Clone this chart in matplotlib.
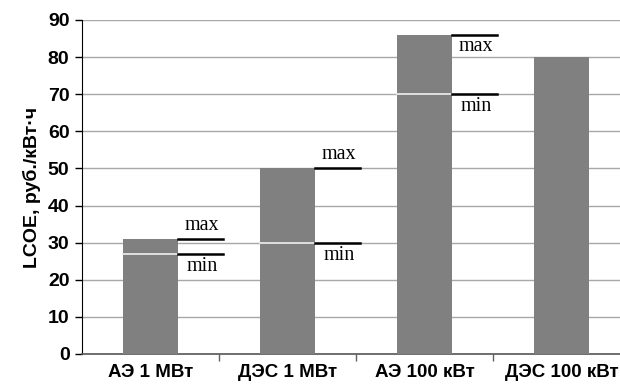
import numpy as np
import matplotlib
matplotlib.use("Agg")
import matplotlib.pyplot as plt

# ---- data ----
categories = ['АЭ 1 МВт', 'ДЭС 1 МВт', 'АЭ 100 кВт', 'ДЭС 100 кВт']
lcoe_max = [31, 50, 86, 80]
lcoe_min = [27, 30, 70, np.nan]
yticks = np.arange(0, 100, 10)

bar_col = '#808080'

fig = plt.figure(figsize=(6.2, 3.88), dpi=100)
ax = fig.add_axes([82/620, 34/388, 548/620, 334/388])

x = np.arange(len(categories))
ax.bar(x, lcoe_max, width=0.4, color=bar_col, zorder=3)

# grid
for v in yticks[1:]:
    ax.axhline(v, color='#a8a8a8', lw=1.0, zorder=1)

for i in range(len(categories)):
    if np.isnan(lcoe_min[i]):
        continue
    hi = lcoe_max[i]
    lo = lcoe_min[i]
    # white line inside the bar at min value
    ax.plot([i - 0.2, i + 0.2], [lo, lo], color='#e8e8e8', lw=1.3, zorder=4)
    # max/min markers to the right of the bar
    ax.plot([i + 0.2, i + 0.53], [hi, hi], color='black', lw=1.8, zorder=4)
    ax.plot([i + 0.2, i + 0.53], [lo, lo], color='black', lw=1.8, zorder=4)
    if hi + 6 < 90:
        ax.text(i + 0.375, hi + 1.2, 'max', ha='center', va='bottom',
                family='Liberation Serif', fontsize=14.5)
    else:
        ax.text(i + 0.375, hi - 0.6, 'max', ha='center', va='top',
                family='Liberation Serif', fontsize=14.5)
    ax.text(i + 0.375, lo - 0.8, 'min', ha='center', va='top',
            family='Liberation Serif', fontsize=14.5)

ax.set_xlim(-0.5, len(categories) - 0.5)
ax.set_ylim(0, 90)
ax.set_xticks(x)
ax.set_xticklabels(categories, fontsize=13.5, fontweight='bold', family='Liberation Sans')
ax.set_yticks(yticks)
ax.set_yticklabels([str(v) for v in yticks], fontsize=14, fontweight='bold', family='Liberation Sans')
ax.tick_params(axis='x', length=0, pad=7)
ax.tick_params(axis='y', length=5, width=1, direction='out', pad=4)
# minor ticks between categories on x-axis
ax.set_xticks(np.arange(0.5, len(categories) - 0.5, 1), minor=True)
ax.tick_params(axis='x', which='minor', length=5, width=1, color='#606060', direction='out')

ax.set_ylabel('LCOE, руб./кВт·ч', fontsize=14, fontweight='bold', family='Liberation Sans', labelpad=5)

ax.spines['top'].set_visible(False)
ax.spines['right'].set_visible(False)
ax.spines['left'].set_color('black')
ax.spines['bottom'].set_color('#555555')
ax.spines['bottom'].set_linewidth(1.2)

fig.savefig('out.png', dpi=100)
